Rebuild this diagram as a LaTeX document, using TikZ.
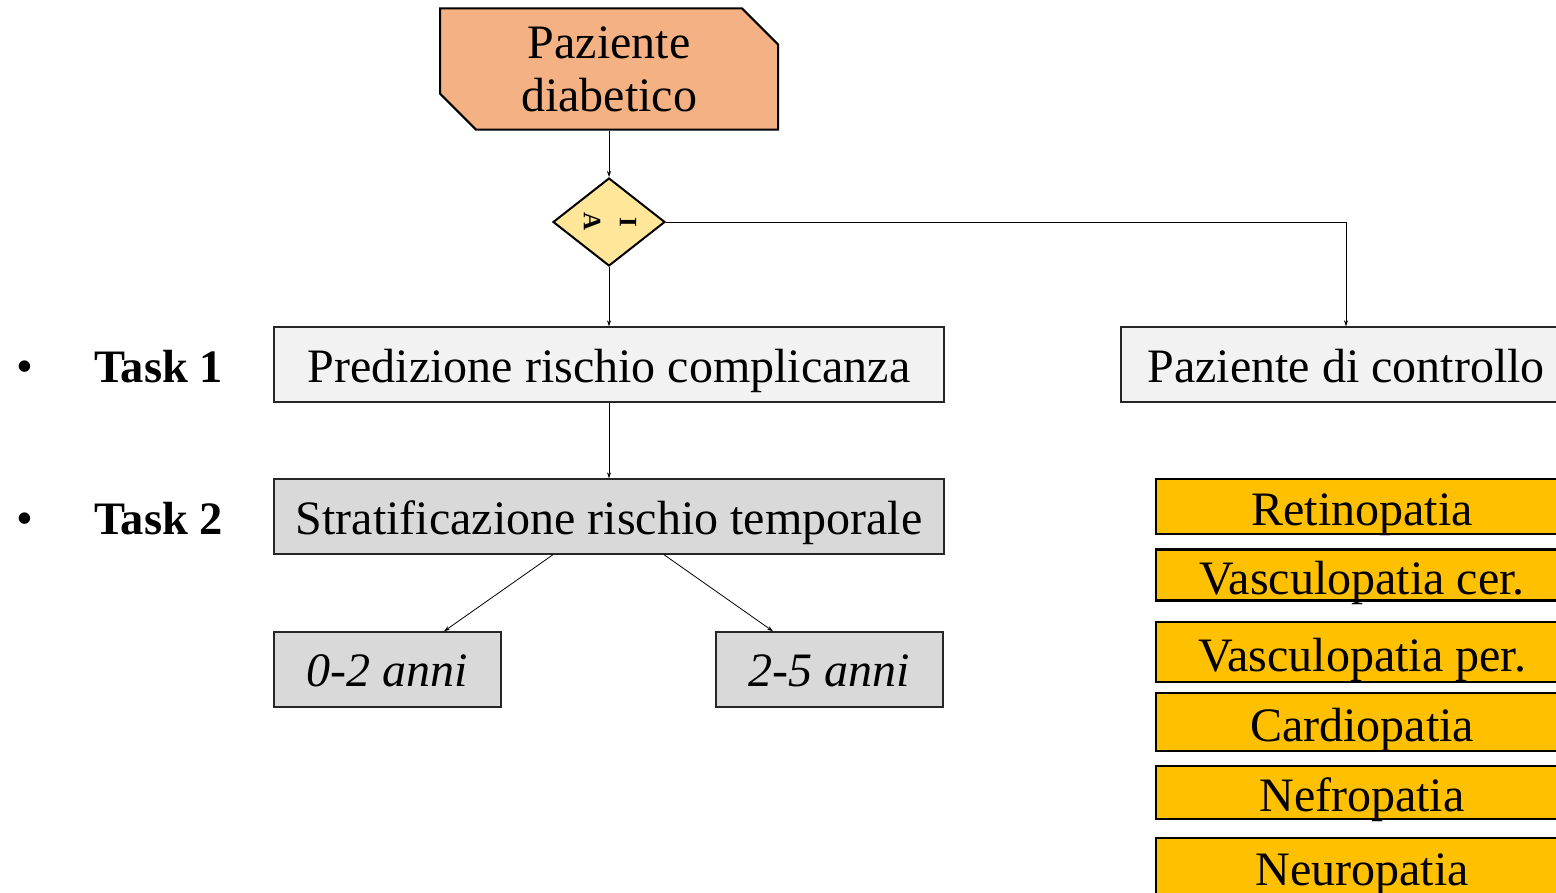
\documentclass[tikz,border=0pt]{standalone}
\usepackage{fontspec}
\setmainfont{Liberation Serif}
\usetikzlibrary{shapes.geometric,shapes.misc,arrows.meta}
\definecolor{ctop}{HTML}{F4B183}
\definecolor{cdia}{HTML}{FFE699}
\definecolor{cgrayA}{HTML}{F2F2F2}
\definecolor{cgrayB}{HTML}{D9D9D9}
\definecolor{corange}{HTML}{FFC000}
\begin{document}
\begin{tikzpicture}[x=1pt,y=-1pt,
  bigtext/.style={font=\fontsize{48}{53}\selectfont},
  box/.style={draw, rectangle, inner sep=0pt, bigtext, text height=36pt, text depth=0pt},
  graybox/.style={box, draw=black!85, line width=1.4pt},
  orangebox/.style={box, fill=corange, line width=2.4pt, minimum width=412pt, text height=38pt},
  conn/.style={-{Stealth[length=6pt,width=4pt]}, line width=0.8pt},
  tasklabel/.style={font=\fontsize{46.5}{50}\selectfont\bfseries, anchor=base west, inner sep=0pt}
]
\useasboundingbox (0,0) rectangle (1556,893);

% top box
\node[chamfered rectangle, chamfered rectangle corners={north east,south west},
      chamfered rectangle xsep=18pt, chamfered rectangle ysep=18pt,
      draw, fill=ctop, line width=2pt, inner sep=0pt,
      minimum width=338pt, minimum height=116pt, align=center, bigtext]
      (top) at (609,69) {Paziente\\diabetico};

% decision diamond
\node[diamond, draw, fill=cdia, line width=2pt, inner sep=0pt,
      minimum width=112pt, minimum height=88pt] (dia) at (609,222) {};
\node[rotate=-90, font=\fontsize{25}{36}\selectfont\bfseries, align=center, inner sep=0pt]
      (dialbl) at ([xshift=1pt]dia.center) {I\\A};

% task boxes
\node[graybox, fill=cgrayA, minimum width=670pt, minimum height=75pt] (t1) at (609,364.5)
      {Predizione rischio complicanza};
\node[graybox, fill=cgrayB, minimum width=670pt, minimum height=75pt] (t2) at (609,516.5)
      {Stratificazione rischio temporale};
\node[graybox, fill=cgrayB, minimum width=227pt, minimum height=75pt, font=\fontsize{48}{53}\selectfont\itshape, text height=34pt]
      (y02) at (387.5,669.5) {0-2 anni};
\node[graybox, fill=cgrayB, minimum width=227pt, minimum height=75pt, font=\fontsize{48}{53}\selectfont\itshape, text height=34pt]
      (y25) at (829.5,669.5) {2-5 anni};

% control patient
\node[graybox, fill=cgrayA, minimum width=450pt, minimum height=75pt] (ctrl) at (1346,364.5)
      {Paziente di controllo};

% complications
\node[orangebox, minimum height=55pt] (c1) at (1362,506.5) {Retinopatia};
\node[orangebox, minimum height=51pt] (c2) at (1362,575) {Vasculopatia cer.};
\node[orangebox, minimum height=60pt] (c3) at (1362,652) {Vasculopatia per.};
\node[orangebox, minimum height=58pt] (c4) at (1362,722) {Cardiopatia};
\node[orangebox, minimum height=53pt] (c5) at (1362,792.5) {Nefropatia};
\node[orangebox, minimum height=57pt] (c6) at (1362,866.5) {Neuropatia};

% task labels
\node[font=\fontsize{48}{50}\selectfont, anchor=base, inner sep=0pt] (b1) at (25,382) {•};
\node[tasklabel] (l1) at (94,382) {Task 1};
\node[font=\fontsize{48}{50}\selectfont, anchor=base, inner sep=0pt] (b2) at (25,534) {•};
\node[tasklabel] (l2) at (94,534) {Task 2};

% connectors
\draw[conn] (top.south) -- (dia.north);
\draw[conn] (dia.south) -- (t1.north);
\draw[conn] (dia.east) -| (ctrl.north);
\draw[conn] (t1.south) -- (t2.north);
\draw[conn] ([xshift=-56pt]t2.south) -- ([xshift=56.5pt]y02.north);
\draw[conn] ([xshift=55pt]t2.south) -- ([xshift=-56.5pt]y25.north);
\end{tikzpicture}
\end{document}
